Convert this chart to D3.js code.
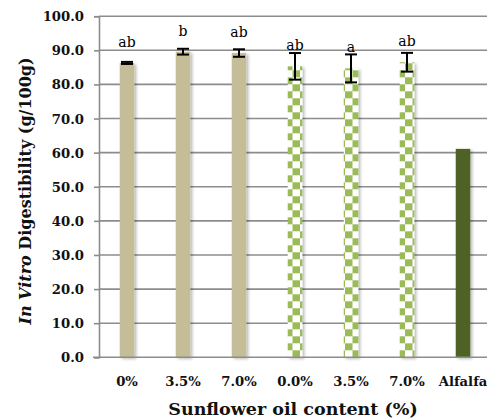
<!DOCTYPE html>
<html><head><meta charset="utf-8">
<script src="https://cdn.jsdelivr.net/npm/d3@7/dist/d3.min.js"></script>
<style>body{margin:0;background:#fff}svg{display:block}</style>
</head><body><svg id="c" width="487" height="419"></svg>
<script>
const categories = ["0%", "3.5%", "7.0%", "0.0%", "3.5%", "7.0%", "Alfalfa"];
const digestibility = [86.3, 89.6, 89.2, 85.3, 84.7, 86.5, 61.1];
const errors = [0.3, 0.85, 1.1, 3.9, 4.1, 2.75, 0];
const letters = ["ab", "b", "ab", "ab", "a", "ab", ""];
const groups = ["plain", "plain", "plain", "checker", "checker", "checker", "alfalfa"];
const yTicks = [0, 10, 20, 30, 40, 50, 60, 70, 80, 90, 100];

const svg = d3.select("#c");
const W = 487, H = 419;
const mLeft = 99, mRight = 491, mTop = 16.2, mBottom = 357.3;

const defs = svg.append("defs");
const pat = defs.append("pattern").attr("id", "chk").attr("patternUnits", "userSpaceOnUse")
  .attr("width", 15).attr("height", 14).attr("x", 0).attr("y", mBottom);
pat.append("rect").attr("width", 15).attr("height", 14).attr("fill", "#ffffff");
pat.append("rect").attr("x", 0).attr("y", 0).attr("width", 7.5).attr("height", 7).attr("fill", "#9bbb59");
pat.append("rect").attr("x", 7.5).attr("y", 7).attr("width", 7.5).attr("height", 7).attr("fill", "#9bbb59");
const f = defs.append("filter").attr("id", "sh").attr("x", "-50%").attr("y", "-5%").attr("width", "200%").attr("height", "110%");
f.append("feDropShadow").attr("dx", 2).attr("dy", 1.5).attr("stdDeviation", 1.8).attr("flood-color", "#000").attr("flood-opacity", 0.28);

const x = d3.scaleBand().domain(d3.range(categories.length)).range([mLeft, mRight]).paddingInner(0).paddingOuter(0);
const y = d3.scaleLinear().domain([0, 100]).range([mBottom, mTop]);
const barW = 14.5;

// gridlines
svg.append("g").selectAll("line").data(yTicks.filter(d => d > 0)).join("line")
  .attr("x1", mLeft).attr("x2", W).attr("y1", d => y(d)).attr("y2", d => y(d))
  .attr("stroke", "#8c8c8c").attr("stroke-width", 1.6);

// y axis
const yAxis = svg.append("g").attr("transform", `translate(${mLeft},0)`)
  .call(d3.axisLeft(y).tickValues(yTicks).tickFormat(d3.format(".1f")).tickSize(5).tickPadding(0));
yAxis.select(".domain").attr("stroke", "#8c8c8c").attr("stroke-width", 1.6);
yAxis.selectAll(".tick line").attr("stroke", "#8c8c8c").attr("stroke-width", 1.6);
yAxis.selectAll(".tick text").attr("x", null).attr("dy", null)
  .attr("transform", "translate(-15,4.5) scale(1.1,1)")
  .attr("font-family", "DejaVu Serif").attr("font-weight", "bold").attr("font-size", 12).attr("fill", "#111");

// bars
const bars = svg.append("g");
bars.selectAll("rect").data(digestibility).join("rect")
  .attr("x", (d, i) => x(i) + x.bandwidth() / 2 - barW / 2)
  .attr("width", barW)
  .attr("y", d => y(d))
  .attr("height", d => y(0) - y(d))
  .attr("fill", (d, i) => groups[i] === "plain" ? "#c4bd97" : groups[i] === "checker" ? "url(#chk)" : "#4f6228")
  .attr("filter", "url(#sh)");

// x axis
svg.append("line").attr("x1", mLeft - 6).attr("x2", W).attr("y1", mBottom).attr("y2", mBottom)
  .attr("stroke", "#8c8c8c").attr("stroke-width", 1.6);

// error bars
const eb = svg.append("g").attr("stroke", "#000").attr("stroke-width", 2);
digestibility.forEach((v, i) => {
  if (!errors[i]) return;
  const cx = x(i) + x.bandwidth() / 2;
  eb.append("line").attr("x1", cx).attr("x2", cx).attr("y1", y(v + errors[i])).attr("y2", y(v - errors[i]));
  [v + errors[i], v - errors[i]].forEach(e => eb.append("line").attr("x1", cx - 6).attr("x2", cx + 6).attr("y1", y(e)).attr("y2", y(e)));
});

// letters
svg.append("g").selectAll("text").data(letters).join("text")
  .attr("x", (d, i) => x(i) + x.bandwidth() / 2)
  .attr("y", (d, i) => y(digestibility[i]) - 16)
  .attr("text-anchor", "middle").attr("font-family", "DejaVu Serif").attr("font-size", 14).attr("fill", "#000")
  .text(d => d);

// x labels
svg.append("g").selectAll("text").data(categories).join("text")
  .attr("transform", (d, i) => `translate(${x(i) + x.bandwidth() / 2},385.5) scale(1.1,1)`)
  .attr("text-anchor", "middle").attr("font-family", "DejaVu Serif").attr("font-weight", "bold").attr("font-size", 12).attr("fill", "#111")
  .text(d => d);

// titles
svg.append("text").attr("x", 293).attr("y", 415).attr("text-anchor", "middle")
  .attr("font-family", "DejaVu Serif").attr("font-weight", "bold").attr("font-size", 17.5).attr("fill", "#111")
  .text("Sunflower oil content (%)");

const yt = svg.append("text").attr("transform", "translate(31,191) rotate(-90)").attr("text-anchor", "middle")
  .attr("font-family", "DejaVu Serif").attr("font-weight", "bold").attr("font-size", 16).attr("fill", "#111");
yt.append("tspan").attr("font-style", "italic").text("In Vitro");
yt.append("tspan").text(" Digestibility (g/100g)");
</script></body></html>
